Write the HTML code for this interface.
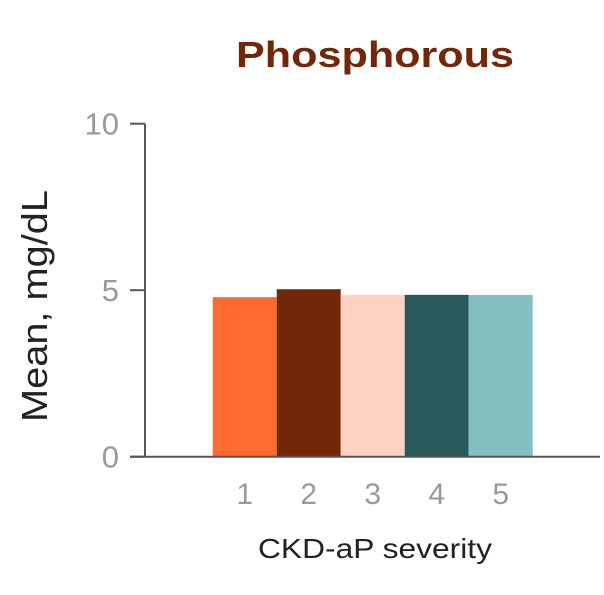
<!DOCTYPE html>
<html><head><meta charset="utf-8"><style>
body{margin:0;background:#fff;}
svg text{font-family:"Liberation Sans",sans-serif;}
</style></head><body>
<svg id="chart" width="604" height="590" xmlns="http://www.w3.org/2000/svg">
<text x="236" y="67" textLength="278" lengthAdjust="spacingAndGlyphs" font-size="36" font-weight="bold" fill="#732608">Phosphorous</text>
<g id="bars"></g>
<g id="axes"></g>
<text transform="translate(47,422) rotate(-90)" textLength="232" lengthAdjust="spacingAndGlyphs" font-size="36" fill="#222">Mean, mg/dL</text>
<text x="258" y="558" textLength="234" lengthAdjust="spacingAndGlyphs" font-size="28" fill="#222">CKD-aP severity</text>
</svg>
<script>
const categories = ["1","2","3","4","5"];
const values = [4.79, 5.03, 4.86, 4.86, 4.86];
const colors = ["#ff6a2e","#732608","#ffd2c2","#285a5b","#84c0c0"];
const yTicks = [0, 5, 10];
const NS="http://www.w3.org/2000/svg";
const y0=456.7, pxPerUnit=33.3;
function y(v){return y0 - v*pxPerUnit;}
const bw=64, firstCenter=244.7;
function x(i){return firstCenter + i*bw;}
const bars=document.getElementById('bars'), axes=document.getElementById('axes');
function mk(tag,attrs,parent){const e=document.createElementNS(NS,tag);for(const k in attrs)e.setAttribute(k,attrs[k]);parent.appendChild(e);return e;}
values.forEach((v,i)=>{
  const r=mk('rect',{x:x(i)-bw/2,y:y(v),width:bw,height:y0-y(v),fill:colors[i]},bars);
  
  
  const t=mk('text',{x:x(i),y:504,'text-anchor':'middle','font-size':'30',fill:'#999'},axes);
  t.textContent=categories[i];
  
  
});
const ya=mk('line',{x1:145,y1:y(10),x2:145,y2:y0,stroke:'#555','stroke-width':2},axes);


const xa=mk('line',{x1:130,y1:y0,x2:600,y2:y0,stroke:'#555','stroke-width':2},axes);


yTicks.forEach(v=>{
  const l=mk('line',{x1:130,y1:y(v),x2:145,y2:y(v),stroke:'#555','stroke-width':2},axes);
  
  
  const t=mk('text',{x:119,y:y(v)+11,'text-anchor':'end','font-size':'31',fill:'#999'},axes);
  t.textContent=v;
  
  
});
</script>
</body></html>
